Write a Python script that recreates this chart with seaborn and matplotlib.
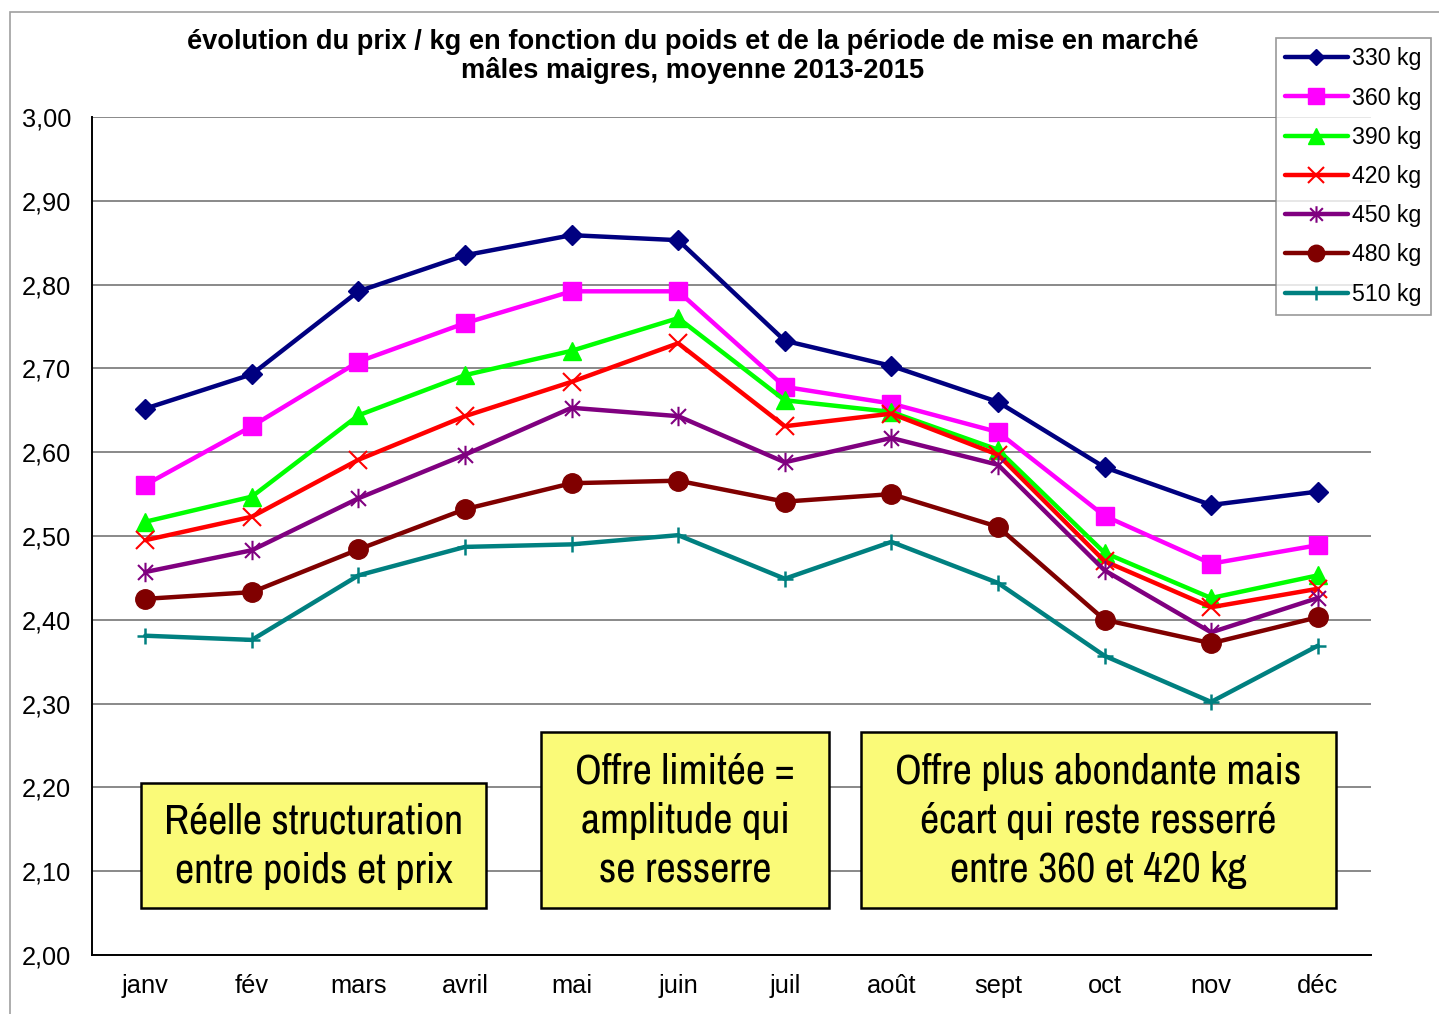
import matplotlib
matplotlib.use('Agg')
import matplotlib.pyplot as plt
import seaborn as sns
import numpy as np
import pandas as pd
from matplotlib.path import Path
from matplotlib.patches import Rectangle
from matplotlib.ticker import FixedLocator, FuncFormatter

# --- data ---
months = ['janv', 'fév', 'mars', 'avril', 'mai', 'juin',
          'juil', 'août', 'sept', 'oct', 'nov', 'déc']
w330 = [2.652, 2.693, 2.792, 2.835, 2.859, 2.853, 2.733, 2.703, 2.660, 2.582, 2.537, 2.553]
w360 = [2.561, 2.631, 2.708, 2.754, 2.792, 2.792, 2.678, 2.658, 2.624, 2.524, 2.467, 2.489]
w390 = [2.517, 2.547, 2.644, 2.692, 2.721, 2.760, 2.662, 2.648, 2.603, 2.480, 2.426, 2.453]
w420 = [2.495, 2.523, 2.591, 2.643, 2.684, 2.730, 2.631, 2.646, 2.597, 2.470, 2.415, 2.437]
w450 = [2.457, 2.483, 2.545, 2.597, 2.653, 2.643, 2.588, 2.617, 2.585, 2.459, 2.385, 2.426]
w480 = [2.425, 2.433, 2.484, 2.532, 2.563, 2.566, 2.541, 2.550, 2.511, 2.400, 2.372, 2.403]
w510 = [2.381, 2.376, 2.453, 2.487, 2.490, 2.501, 2.449, 2.493, 2.444, 2.357, 2.302, 2.369]
labels = ['330 kg', '360 kg', '390 kg', '420 kg', '450 kg', '480 kg', '510 kg']
series = [w330, w360, w390, w420, w450, w480, w510]

title_lines = ['évolution du prix / kg en fonction du poids et de la période de mise en marché',
               'mâles maigres, moyenne 2013-2015']
notes = ['Réelle structuration\nentre poids et prix',
         'Offre limitée =\namplitude qui\nse resserre',
         'Offre plus abondante mais\nécart qui reste resserré\nentre 360 et 420 kg']

# asterisk marker (x + vertical bar), like Excel's
star = Path([(-1, -1), (1, 1), (-1, 1), (1, -1), (0, -1.3), (0, 1.3)],
            [Path.MOVETO, Path.LINETO, Path.MOVETO, Path.LINETO, Path.MOVETO, Path.LINETO])

styles = [
    dict(color='#000080', marker='D', ms=10),
    dict(color='#FF00FF', marker='s', ms=13),
    dict(color='#00FF00', marker='^', ms=13),
    dict(color='#FF0000', marker='x', ms=13, mew=1.5),
    dict(color='#800080', marker=star, ms=14, mew=1.5),
    dict(color='#800000', marker='o', ms=14),
    dict(color='#008080', marker='+', ms=12, mew=1.8),
]

narrow = ['Arial Narrow', 'Liberation Sans Narrow', 'Archivo Narrow', 'Roboto Condensed',
          'PT Sans Narrow', 'IBM Plex Sans Condensed', 'DejaVu Sans']

sns.set_style('white')
plt.rcParams['font.family'] = ['Liberation Sans', 'DejaVu Sans']
plt.rcParams['text.color'] = 'black'
plt.rcParams['xtick.labelcolor'] = 'black'
plt.rcParams['ytick.labelcolor'] = 'black'

W, H = 1439, 1014
fig = plt.figure(figsize=(W / 100, H / 100), dpi=100)

def fx(px):
    return px / W

def fy(py):
    return 1 - py / H

ax = fig.add_axes([fx(92), fy(955), fx(1371) - fx(92), fy(117) - fy(955)])

df = pd.DataFrame({'mois': months})
for lab, vals in zip(labels, series):
    df[lab] = vals

for lab, st in zip(labels, styles):
    sns.lineplot(data=df, x='mois', y=lab, ax=ax, color=st['color'], lw=3.2,
                 marker=st['marker'], markersize=st['ms'],
                 markeredgewidth=st.get('mew', 1), markeredgecolor=st['color'],
                 label=lab, legend=False, sort=False)

ax.set_xlim(-0.5, 11.5)
ax.set_ylim(2.0, 3.0)
ax.set_xlabel('')
ax.set_ylabel('')
ax.set_yticks(np.arange(2.0, 3.001, 0.1))
ax.yaxis.set_major_formatter(FuncFormatter(lambda v, p: f'{v:.2f}'.replace('.', ',')))
ax.grid(axis='y', color='#808080', lw=1.3)
ax.set_axisbelow(True)
for s in ['top', 'right']:
    ax.spines[s].set_visible(False)
for s in ['left', 'bottom']:
    ax.spines[s].set_color('black')
    ax.spines[s].set_linewidth(1.4)

ax.tick_params(axis='x', which='major', length=0, pad=14, labelsize=18.3, labelcolor='black')
ax.xaxis.set_minor_locator(FixedLocator(np.arange(-0.5, 12, 1)))
ax.tick_params(axis='x', which='minor', length=5, color='#808080', width=1.2, direction='out')
ax.tick_params(axis='y', length=5, color='#808080', width=1.2, direction='out', pad=10,
               labelsize=18.3, labelcolor='black')

# title
fig.text(fx(693), fy(42), title_lines[0], ha='center', va='center', fontsize=19.6, fontweight='bold')
fig.text(fx(693), fy(71), title_lines[1], ha='center', va='center', fontsize=19.6, fontweight='bold')

# legend
handles, labs = ax.get_legend_handles_labels()
leg = fig.legend(handles, labs, loc='upper right', bbox_to_anchor=(fx(1431), fy(38)),
                 fontsize=16.7, frameon=True, fancybox=False, edgecolor='#808080',
                 handlelength=2.7, handletextpad=0.2, labelspacing=0.7,
                 borderpad=0.4, borderaxespad=0, markerscale=0.85)
leg.get_frame().set_linewidth(1.2)

# annotation boxes
boxes = [(141, 783, 486, 908), (541, 732, 829, 908), (861, 732, 1336, 908)]
for (x0, y0, x1, y1), txt in zip(boxes, notes):
    fig.patches.append(Rectangle((fx(x0), fy(y1)), fx(x1) - fx(x0), fy(y0) - fy(y1),
                                 transform=fig.transFigure, facecolor='#FAFA78',
                                 edgecolor='black', lw=1.8, zorder=5))
    fig.text(fx((x0 + x1) / 2), fy((y0 + y1) / 2 + 1), txt, ha='center', va='center',
             fontsize=30.3, linespacing=1.36, zorder=6, family=narrow)

# outer chart border
fig.patches.append(Rectangle((fx(10), fy(1030)), 1.0, fy(12) - fy(1030),
                             transform=fig.transFigure, fill=False,
                             edgecolor='#A0A0A0', lw=1.2))

fig.savefig('out.png', dpi=100)
